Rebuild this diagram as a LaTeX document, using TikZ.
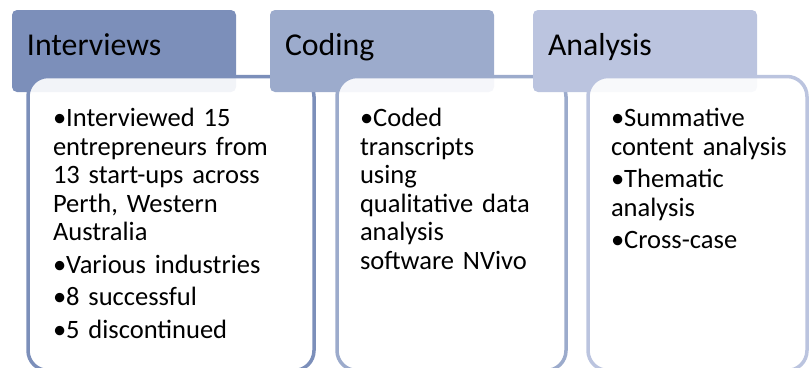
\documentclass[tikz,border=0pt]{standalone}
\usepackage{fontspec}
\setmainfont{Carlito}
\usetikzlibrary{positioning}

\definecolor{stageA}{RGB}{124,143,186}
\definecolor{stageB}{RGB}{156,171,204}
\definecolor{stageC}{RGB}{187,196,223}

\begin{document}
\begin{tikzpicture}[
    x=1pt, y=-1pt,
    outer sep=0pt,
    header/.style={
        rectangle,
        rounded corners=5pt,
        anchor=north west,
        inner xsep=15pt,
        inner ysep=0pt,
        text width=194pt,
        text height=45pt,
        text depth=37pt,
        align=left,
        font=\fontsize{31.8}{37}\selectfont
    },
    detail/.style={
        rectangle,
        rounded corners=20pt,
        draw,
        line width=3.5pt,
        fill=white,
        fill opacity=0.9,
        minimum height=294pt
    },
    bullets/.style={
        inner sep=0pt,
        text width=250pt,
        align=left,
        font=\fontsize{26.5}{28.5}\selectfont
    }
]
    \useasboundingbox (0,0) rectangle (809,367);
    \clip (0,0) rectangle (809,367);

    % Etapa 1
    \node (interviews) [header, fill=stageA] at (12,10) {Interviews};
    \node (intdetail) [detail, draw=stageA, minimum width=286pt, below right=66.5pt and 16pt of interviews.north west] {};
    \node (intlist) [bullets, below right=50pt and 25pt of intdetail.north west, anchor=base west]
        {•Interviewed 15\\ entrepreneurs from\\ 13 start-ups across\\ Perth, Western\\ Australia\\[4pt]
         •Various industries\\[4pt] •8 successful\\[4pt] •5 discontinued};

    % Etapa 2
    \node (coding) [header, fill=stageB, right=34pt of interviews] {Coding};
    \node (coddetail) [detail, draw=stageB, minimum width=229pt, below right=66.5pt and 67pt of coding.north west] {};
    \node (codlist) [bullets, below right=50pt and 23pt of coddetail.north west, anchor=base west]
        {•Coded\\ transcripts\\ using\\ qualitative data\\ analysis\\ software NVivo};

    % Etapa 3
    \node (analysis) [header, fill=stageC, right=39pt of coding] {Analysis};
    \node (anadetail) [detail, draw=stageC, minimum width=219pt, below right=66.5pt and 55pt of analysis.north west] {};
    \node (analist) [bullets, below right=50pt and 23pt of anadetail.north west, anchor=base west]
        {•Summative\\ content analysis\\[4pt] •Thematic\\ analysis\\[4pt] •Cross-case};
\end{tikzpicture}
\end{document}
